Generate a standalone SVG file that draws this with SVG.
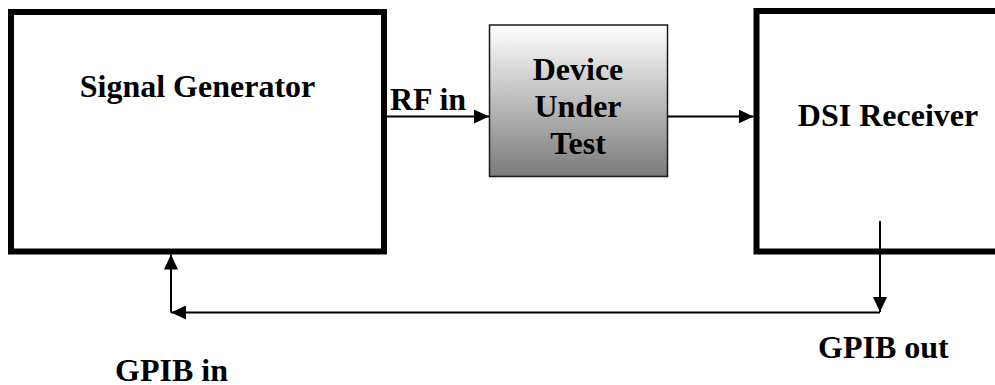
<svg xmlns="http://www.w3.org/2000/svg" width="995" height="385" viewBox="0 0 995 385">
<style>
.box{fill:#fff;stroke:#000;stroke-width:6}
.lbl{font-family:"Liberation Serif","Times New Roman",serif;font-weight:bold;font-size:32px;fill:#000}
.mid{text-anchor:middle}
.wire{fill:none;stroke:#000;stroke-width:2}
</style>
<defs>
<linearGradient id="dutg" x1="0" y1="0" x2="0" y2="1">
<stop offset="0" stop-color="#ffffff"/>
<stop offset="1" stop-color="#7a7a7a"/>
</linearGradient>
<marker id="ah" viewBox="0 0 15 14" refX="15" refY="7" markerWidth="15" markerHeight="14" markerUnits="userSpaceOnUse" orient="auto">
<path d="M0,0 L15,7 L0,14 Z" fill="#000"/>
</marker>
</defs>
<g id="signal-generator">
<rect class="box" x="11" y="12" width="373" height="239.5"/>
<text class="lbl mid" x="197.5" y="97">Signal Generator</text>
</g>
<g id="dut">
<rect x="489.5" y="25" width="178" height="151.5" fill="url(#dutg)" stroke="#1a1a1a" stroke-width="1.5"/>
<text class="lbl mid" x="578" y="80">Device</text>
<text class="lbl mid" x="578" y="117">Under</text>
<text class="lbl mid" x="578" y="154">Test</text>
</g>
<g id="dsi-receiver">
<rect class="box" x="756.5" y="11" width="260" height="240.5"/>
<text class="lbl mid" x="888" y="126">DSI Receiver</text>
</g>
<g id="connectors">
<line class="wire" x1="387" y1="116.5" x2="489" y2="116.5" marker-end="url(#ah)"/>
<line class="wire" x1="667.5" y1="116.5" x2="753.5" y2="116.5" marker-end="url(#ah)"/>
<polyline class="wire" points="880,221 880,312" marker-end="url(#ah)"/>
<line class="wire" x1="880" y1="312.5" x2="171" y2="312.5" marker-end="url(#ah)"/>
<line class="wire" x1="171" y1="312.5" x2="171" y2="254.5" marker-end="url(#ah)"/>
<text class="lbl" x="390" y="110">RF in</text>
<text class="lbl" x="115" y="381">GPIB in</text>
<text class="lbl" x="818" y="358">GPIB out</text>
</g>
</svg>
